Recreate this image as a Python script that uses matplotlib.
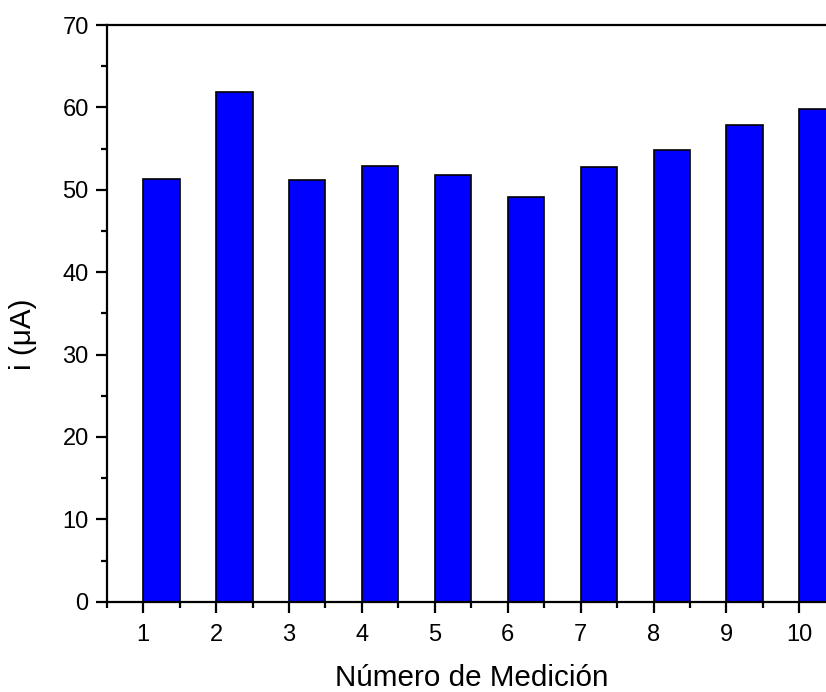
import matplotlib
matplotlib.use('Agg')
import matplotlib.pyplot as plt
from matplotlib.ticker import MultipleLocator

plt.rcParams['font.family'] = ['Liberation Sans', 'DejaVu Sans']

# Data
medicion = [1, 2, 3, 4, 5, 6, 7, 8, 9, 10]
corriente = [51.3, 61.9, 51.2, 52.9, 51.8, 49.1, 52.8, 54.8, 57.9, 59.8]

fig = plt.figure(figsize=(8.26, 6.92), dpi=100)
# axes run a little past the right edge, like the cropped original
ax = fig.add_axes([106.7 / 826, 1 - 601.7 / 692, 729.1 / 826, 576.7 / 692])

ax.bar(medicion, corriente, width=0.5, align='edge',
       color='#0000ff', edgecolor='black', linewidth=1.2, zorder=2)

ax.set_xlim(0.5, 10.5)
ax.set_ylim(0, 70)
ax.xaxis.set_major_locator(MultipleLocator(1))
ax.xaxis.set_minor_locator(MultipleLocator(0.5))
ax.yaxis.set_major_locator(MultipleLocator(10))
ax.yaxis.set_minor_locator(MultipleLocator(5))

for s in ['left', 'bottom', 'top']:
    ax.spines[s].set_linewidth(1.6)
ax.spines['right'].set_visible(False)

ax.tick_params(which='major', direction='out', length=8, width=1.6,
               labelsize=17, pad=5)
ax.tick_params(axis='x', which='major', pad=8)
ax.tick_params(which='minor', direction='out', length=4, width=1.6)
ax.tick_params(top=False, right=False, which='both')

ax.set_xlabel('Número de Medición', fontsize=21.3, labelpad=13)
ax.set_ylabel('i (μA)', fontsize=21.3)
ax.yaxis.set_label_coords(-0.095, 0.464)

fig.savefig('out.png', dpi=100)
